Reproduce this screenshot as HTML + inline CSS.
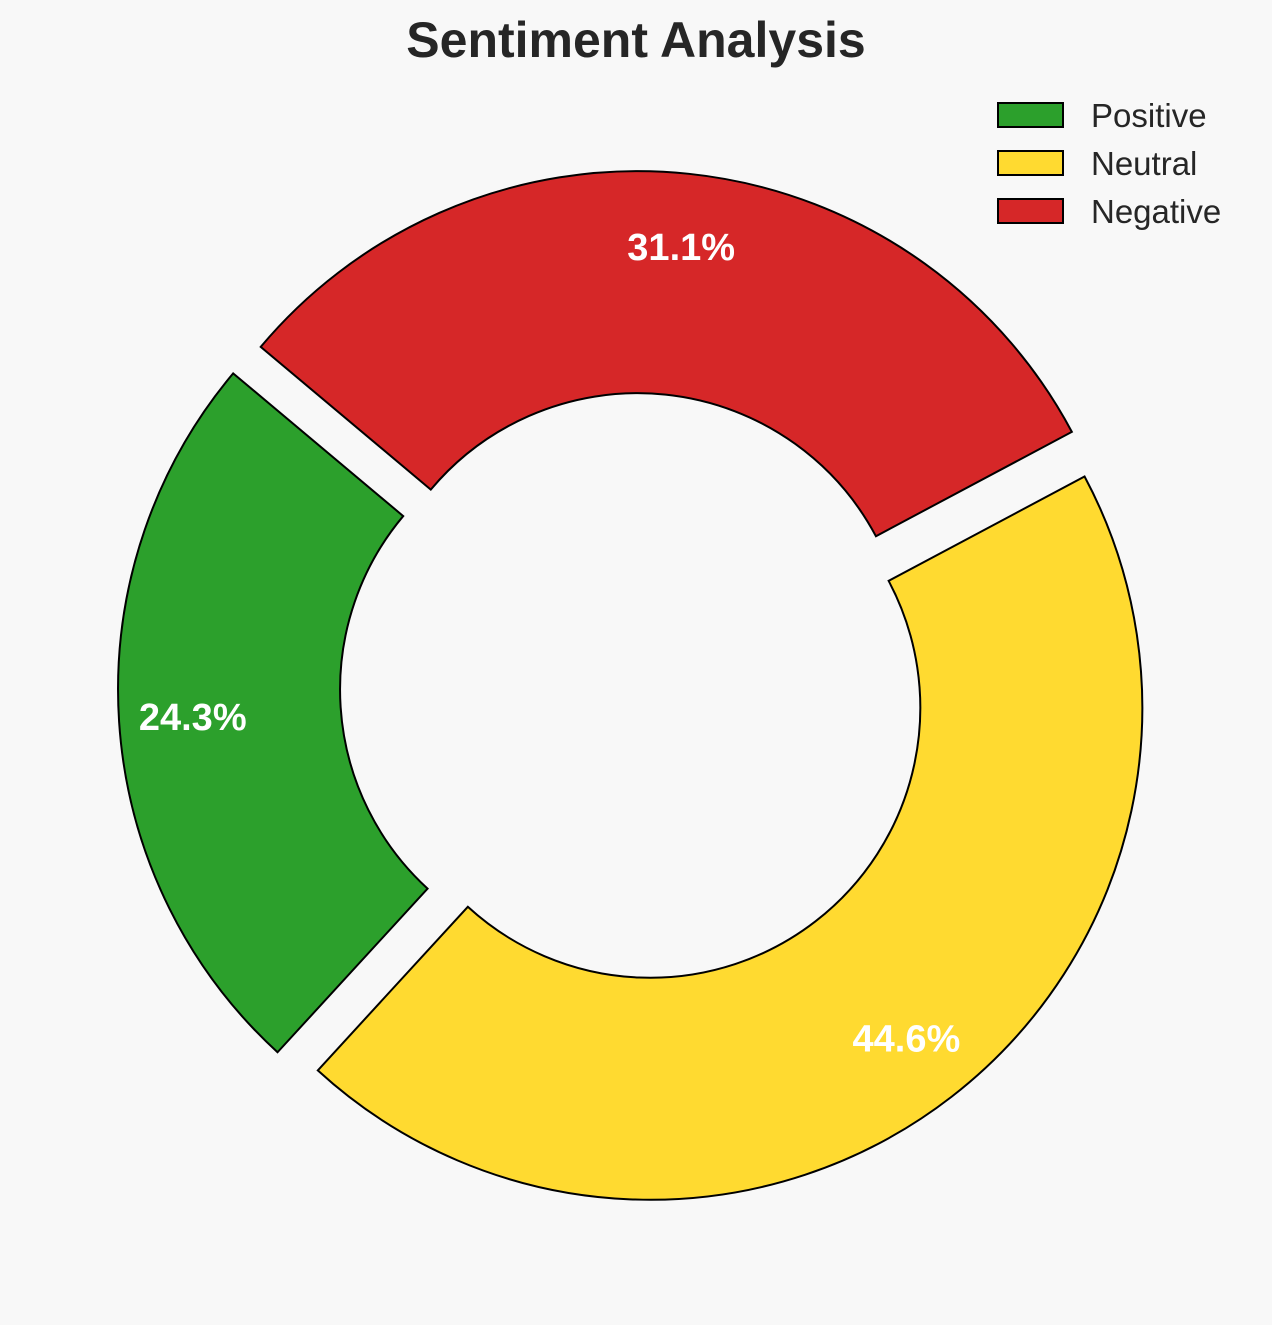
<!DOCTYPE html>
<html><head><meta charset="utf-8">
<style>
html,body{margin:0;padding:0;background:#f8f8f8;}
svg{display:block;font-family:"Liberation Sans",sans-serif;}
</style></head>
<body>
<svg id="chart" width="1272" height="1325" viewBox="0 0 1272 1325">
<rect width="1272" height="1325" fill="#f8f8f8"/>
<text x="636" y="57" text-anchor="middle" font-size="50" font-weight="bold" fill="#262626">Sentiment Analysis</text>
<g id="slices"></g>
<g id="legend"></g>
</svg>
<script>
const categories = ["Positive", "Neutral", "Negative"];
const values = [24.3, 44.6, 31.1];
const colors = ["#2ca02c", "#ffda30", "#d62728"];
const startAngle = 140;
const cx = 635, cy = 688, R = 492, r = 270, explode = 25, pctDist = 0.85;
const NS = "http://www.w3.org/2000/svg";
const total = values.reduce((a,b)=>a+b,0);
const g = document.getElementById("slices");
function pt(x,y,rad,deg){const a=deg*Math.PI/180;return [x+rad*Math.cos(a), y-rad*Math.sin(a)];}
let ang = startAngle;
values.forEach((v,i)=>{
  const sweep = v/total*360;
  const a0 = ang, a1 = ang+sweep, mid = ang+sweep/2;
  const [ox,oy] = pt(cx,cy,explode,mid);
  const p1=pt(ox,oy,R,a0), p2=pt(ox,oy,R,a1), p3=pt(ox,oy,r,a1), p4=pt(ox,oy,r,a0);
  const large = sweep>180?1:0;
  const d=`M${p1[0]},${p1[1]} A${R},${R} 0 ${large} 0 ${p2[0]},${p2[1]} L${p3[0]},${p3[1]} A${r},${r} 0 ${large} 1 ${p4[0]},${p4[1]} Z`;
  const path=document.createElementNS(NS,"path");
  path.setAttribute("d",d);
  path.setAttribute("fill",colors[i]);
  path.setAttribute("stroke","#000");
  path.setAttribute("stroke-width","2");
  
  
  g.appendChild(path);
  const [lx,ly]=pt(ox,oy,R*pctDist,mid);
  const t=document.createElementNS(NS,"text");
  t.setAttribute("x",lx);t.setAttribute("y",ly+13);
  t.setAttribute("text-anchor","middle");
  t.setAttribute("font-size","38");t.setAttribute("font-weight","bold");t.setAttribute("fill","#fff");
  t.textContent=v.toFixed(1)+"%";
  
  
  g.appendChild(t);
  ang=a1;
});
const lg=document.getElementById("legend");
categories.forEach((c,i)=>{
  const y=103+i*48;
  const rect=document.createElementNS(NS,"rect");
  rect.setAttribute("x",998);rect.setAttribute("y",y);rect.setAttribute("width",65);rect.setAttribute("height",24);
  rect.setAttribute("fill",colors[i]);rect.setAttribute("stroke","#000");rect.setAttribute("stroke-width","2");
  
  
  lg.appendChild(rect);
  const t=document.createElementNS(NS,"text");
  t.setAttribute("x",1091);t.setAttribute("y",y+24);
  t.setAttribute("font-size","33");t.setAttribute("fill","#262626");
  t.textContent=c;
  
  
  lg.appendChild(t);
});
</script>
</body></html>
